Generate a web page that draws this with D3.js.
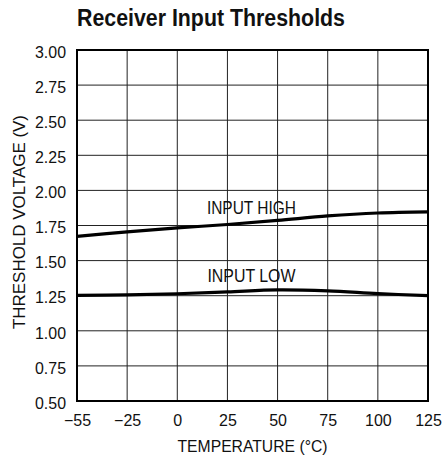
<!DOCTYPE html>
<html>
<head>
<meta charset="utf-8">
<script src="https://cdn.jsdelivr.net/npm/d3@7"></script>
<style>
  body { margin: 0; background: #fff; }
  text { font-family: "Liberation Sans Narrow", "Arial Narrow", "Liberation Sans", sans-serif; fill: #111; }
</style>
</head>
<body>
<div id="chart"></div>
<script>
// data
const temps = [-55, -25, 0, 25, 50, 75, 100, 125];
const inputHigh = [1.672, 1.705, 1.733, 1.757, 1.786, 1.818, 1.839, 1.847];
const inputLow = [1.252, 1.256, 1.264, 1.277, 1.291, 1.284, 1.265, 1.250];
const xTicks = [-55, -25, 0, 25, 50, 75, 100, 125];
const yTicks = [0.5, 0.75, 1.0, 1.25, 1.5, 1.75, 2.0, 2.25, 2.5, 2.75, 3.0];

// set the dimensions and margins of the graph
let margin = { top: 50, right: 14, bottom: 63, left: 77 },
  width = 442 - margin.left - margin.right,
  height = 464 - margin.top - margin.bottom;

var svg = d3
  .select('#chart')
  .append('svg')
  .attr('width', 442)
  .attr('height', 464);

var g = svg
  .append('g')
  .attr('transform', 'translate(' + margin.left + ',' + margin.top + ')');

// first column -55..-25 is drawn as wide as the others
let x = d3.scaleLinear().domain([-55, -25, 125]).range([0, width / 7, width]);
let y = d3.scaleLinear().domain([0.5, 3.0]).range([height, 0]);

// grid
g.selectAll('.vgrid')
  .data(xTicks)
  .enter()
  .append('line')
  .attr('x1', (d) => x(d))
  .attr('x2', (d) => x(d))
  .attr('y1', 0)
  .attr('y2', height)
  .style('stroke', '#222')
  .style('stroke-width', 1);

g.selectAll('.hgrid')
  .data(yTicks)
  .enter()
  .append('line')
  .attr('x1', 0)
  .attr('x2', width)
  .attr('y1', (d) => y(d))
  .attr('y2', (d) => y(d))
  .style('stroke', '#222')
  .style('stroke-width', 1);

// frame
g.append('rect')
  .attr('width', width)
  .attr('height', height)
  .style('fill', 'none')
  .style('stroke', '#000')
  .style('stroke-width', 2);

// axes (labels only)
let yAxis = g
  .append('g')
  .call(d3.axisLeft(y).tickValues(yTicks).tickSize(0).tickPadding(11).tickFormat(d3.format('.2f')));
yAxis.select('.domain').remove();
yAxis.selectAll('text')
  .style('font-family', '"Liberation Sans", Arial, sans-serif')
  .style('font-size', '16px')
  .attr('textLength', 31)
  .attr('lengthAdjust', 'spacingAndGlyphs')
  .attr('dy', '0.45em');

let xAxis = g
  .append('g')
  .attr('transform', 'translate(0,' + height + ')')
  .call(
    d3.axisBottom(x).tickValues(xTicks).tickSize(0).tickPadding(14)
      .tickFormat((d) => (d < 0 ? '\u2212' + Math.abs(d) : d))
  );
xAxis.select('.domain').remove();
xAxis.selectAll('text')
  .style('font-family', '"Liberation Sans", Arial, sans-serif')
  .style('font-size', '16px');

// curves
let line = d3
  .line()
  .x((d) => x(d[0]))
  .y((d) => y(d[1]))
  .curve(d3.curveCatmullRom);

[inputHigh, inputLow].forEach(function (series) {
  g.append('path')
    .datum(temps.map((t, i) => [t, series[i]]))
    .attr('d', line)
    .style('fill', 'none')
    .style('stroke', '#000')
    .style('stroke-width', 3.2);
});

// curve labels
g.append('text')
  .attr('x', x(25) + 24)
  .attr('y', y(1.75) - 12)
  .attr('text-anchor', 'middle')
  .style('font-size', '19px')
  .attr('textLength', 89)
  .attr('lengthAdjust', 'spacingAndGlyphs')
  .text('INPUT HIGH');

g.append('text')
  .attr('x', x(25) + 24)
  .attr('y', y(1.25) - 14)
  .attr('text-anchor', 'middle')
  .style('font-size', '19px')
  .attr('textLength', 88)
  .attr('lengthAdjust', 'spacingAndGlyphs')
  .text('INPUT LOW');

// titles
svg.append('text')
  .attr('x', 77)
  .attr('y', 26)
  .style('font-size', '23px')
  .style('font-weight', 'bold')
  .attr('textLength', 268)
  .attr('lengthAdjust', 'spacingAndGlyphs')
  .text('Receiver Input Thresholds');

svg.append('text')
  .attr('x', margin.left + width / 2)
  .attr('y', 452)
  .attr('text-anchor', 'middle')
  .style('font-size', '17px')
  .attr('textLength', 150)
  .attr('lengthAdjust', 'spacingAndGlyphs')
  .text('TEMPERATURE (\u00B0C)');

svg.append('text')
  .attr('transform', 'translate(25,' + 222 + ') rotate(-90)')
  .attr('text-anchor', 'middle')
  .style('font-size', '17px')
  .attr('textLength', 214)
  .attr('lengthAdjust', 'spacingAndGlyphs')
  .text('THRESHOLD VOLTAGE (V)');
</script>
</body>
</html>
